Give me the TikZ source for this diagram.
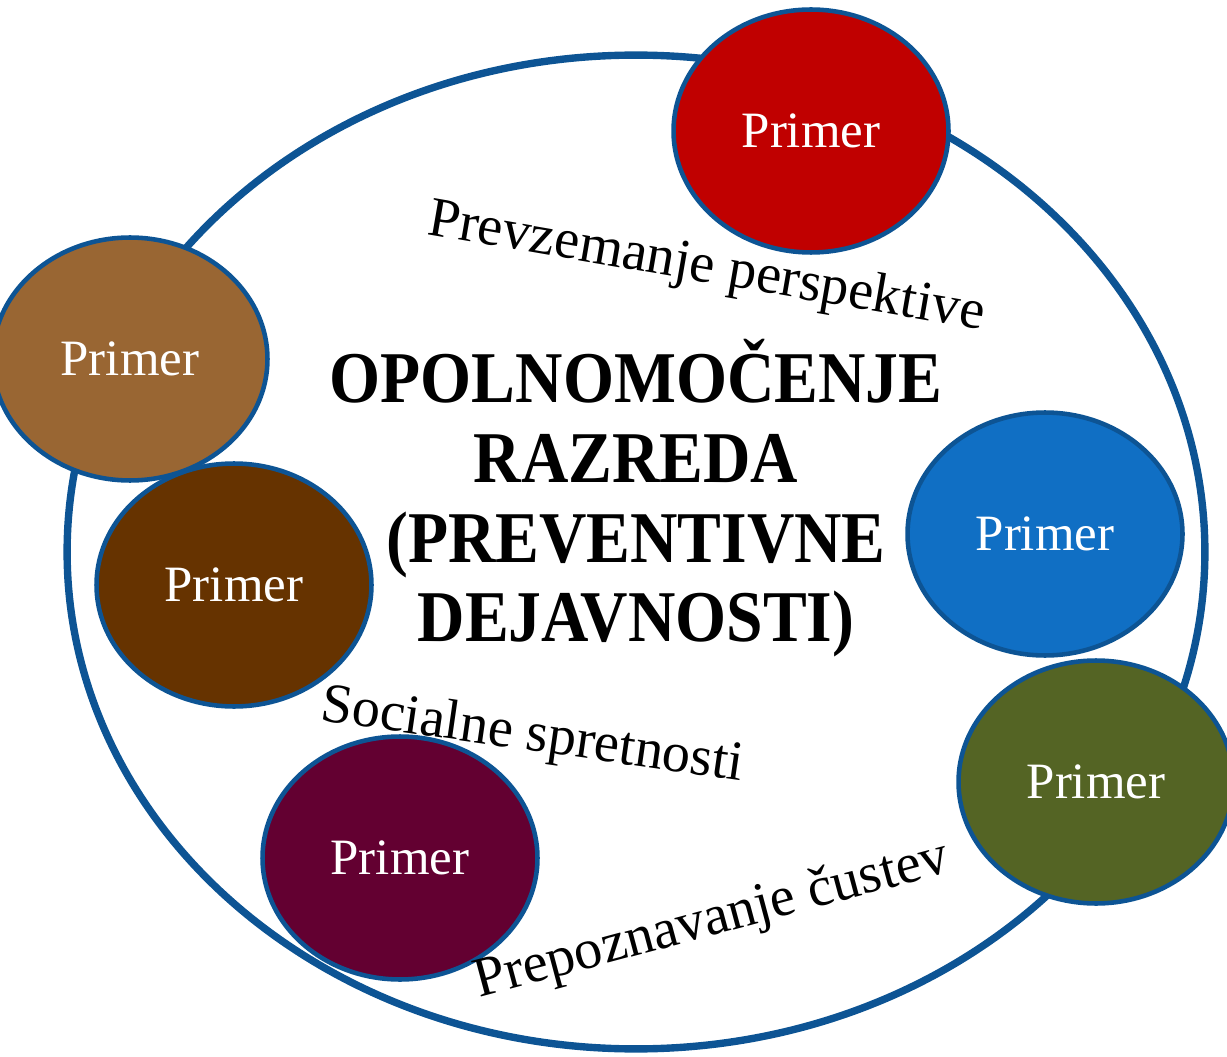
\documentclass[tikz,border=0pt]{standalone}
\usepackage{fontspec}
\setmainfont{Liberation Serif}
\newfontfamily\titlefont[FakeStretch=0.9]{Liberation Serif}
\usetikzlibrary{shapes.geometric}
\definecolor{ringblue}{RGB}{13,84,148}
\definecolor{cred}{RGB}{192,0,0}
\definecolor{clbrown}{RGB}{153,102,51}
\definecolor{cdbrown}{RGB}{102,51,0}
\definecolor{cblue}{RGB}{16,111,196}
\definecolor{colive}{RGB}{84,100,36}
\definecolor{cmaroon}{RGB}{99,0,49}
\begin{document}
\begin{tikzpicture}[x=0.02cm,y=-0.02cm,
  ring/.style={draw=ringblue, line width=4.2pt, ellipse, inner sep=0pt,
    minimum width=22.76cm, minimum height=19.88cm},
  bubble/.style={ellipse, draw=ringblue, line width=2.6pt, inner sep=0pt,
    minimum width=5.5cm, minimum height=4.86cm, text=white,
    font=\fontsize{29}{34}\selectfont},
  themetext/.style={font=\fontsize{32}{38}\selectfont, anchor=base west, inner sep=0pt},
  headline/.style={font=\titlefont\bfseries\fontsize{41.5}{46}\selectfont, anchor=base, inner sep=0pt}]
\useasboundingbox (0,0) rectangle (1227,1057);
\node[ring] (ring) at (636,552) {};
\node[bubble, fill=cred] (b1) at (811,131) {Primer};
\node[bubble, fill=clbrown] (b2) at (130,359) {Primer};
\node[bubble, fill=cdbrown] (b3) at (234,585) {Primer};
\node[bubble, fill=cblue] (b4) at (1045,534) {Primer};
\node[bubble, fill=colive] (b5) at (1096,782) {Primer};
\node[bubble, fill=cmaroon] (b6) at (400,858) {Primer};
\node[headline] (t1) at (636,402) {OPOLNOMOČENJE};
\node[headline] (t2) at (636,482) {RAZREDA};
\node[headline] (t3) at (636,562) {(PREVENTIVNE};
\node[headline] (t4) at (636,641) {DEJAVNOSTI)};
\node[themetext, rotate=-9.8] (l1) at (426,234) {Prevzemanje perspektive};
\node[themetext, rotate=-8.2] (l2) at (319,720) {Socialne spretnosti};
\node[themetext, rotate=15] (l3) at (479,998) {Prepoznavanje čustev};
\end{tikzpicture}
\end{document}
